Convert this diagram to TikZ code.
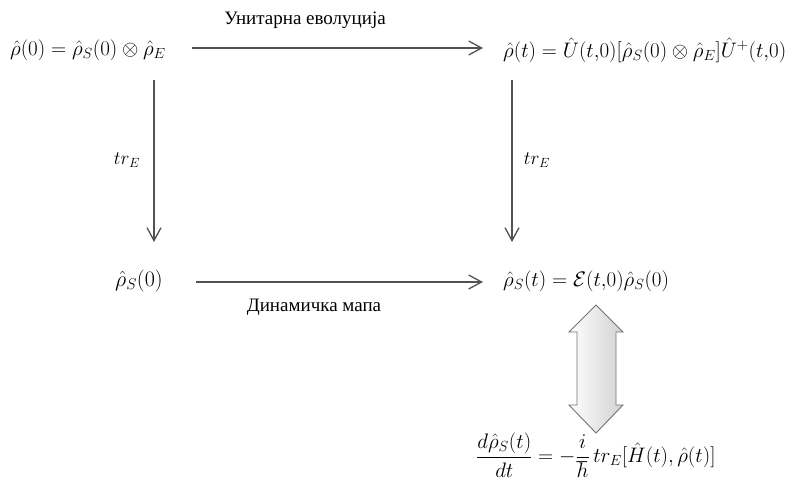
\documentclass[tikz,border=0pt]{standalone}
\usepackage{fix-cm}
\usepackage{amsmath}
\usepackage{fontspec}
\setmainfont{Liberation Serif}
\usetikzlibrary{arrows.meta}
\tikzset{
  conn/.style={draw=black!68, line width=1.3pt, -{Straight Barb[length=13pt,width=14pt,line width=1.3pt]}},
  mth/.style={inner sep=0pt, font=\fontsize{21}{25}\selectfont},
  trl/.style={inner sep=0pt, font=\fontsize{19}{23}\selectfont},
  lbl/.style={inner sep=0pt, font=\fontsize{19}{23}\selectfont},
  blockarrow/.style={draw=black!55, line width=0.9pt, left color=white, right color=black!18}
}
\begin{document}
\begin{tikzpicture}[x=1pt,y=-1pt]
\useasboundingbox (0,0) rectangle (791,496);
% formulas
\node[mth, anchor=west] (tl) at (10,50) {$\hat{\rho}(0)=\hat{\rho}_S(0)\otimes\hat{\rho}_E$};
\node[mth, anchor=west] (tr) at (503,50) {$\hat{\rho}(t)=\hat{U}(t{,}0)[\hat{\rho}_S(0)\otimes\hat{\rho}_E]\hat{U}^{+}(t{,}0)$};
\node[mth, anchor=west, font=\fontsize{22}{26}\selectfont] (bl) at (115,281) {$\hat{\rho}_S(0)$};
\node[mth, anchor=west] (br) at (503,281) {$\hat{\rho}_S(t)=\mathcal{E}(t{,}0)\hat{\rho}_S(0)$};
\node[mth, anchor=west] (eq) at (476,455) {$\dfrac{d\hat{\rho}_S(t)}{dt}=-\dfrac{i}{\hbar}\,tr_E[\hat{H}(t),\hat{\rho}(t)]$};
% labels
\node[lbl] (l1) at (305,20) {Унитарна еволуција};
\node[lbl] (l2) at (314,307) {Динамичка мапа};
\node[trl] (l3) at (127,160) {$tr_E$};
\node[trl] (l4) at (537,160) {$tr_E$};
% connector end points
\coordinate (a1s) at (192,48);
\coordinate (a1e) at (483,48);
\coordinate (a2s) at (154,80);
\coordinate (a2e) at (154,242);
\coordinate (a3s) at (512,80);
\coordinate (a3e) at (512,242);
\coordinate (a4s) at (196,282);
\coordinate (a4e) at (483,282);
\draw[conn] (a1s) -- (a1e);
\draw[conn] (a2s) -- (a2e);
\draw[conn] (a3s) -- (a3e);
\draw[conn] (a4s) -- (a4e);
% double block arrow
\path[blockarrow] (596,305) -- (623,332) -- (616,332) -- (616,405) -- (623,405)
  -- (596,433) -- (569,405) -- (577,405) -- (577,332) -- (569,332) -- cycle;
\end{tikzpicture}
\end{document}
